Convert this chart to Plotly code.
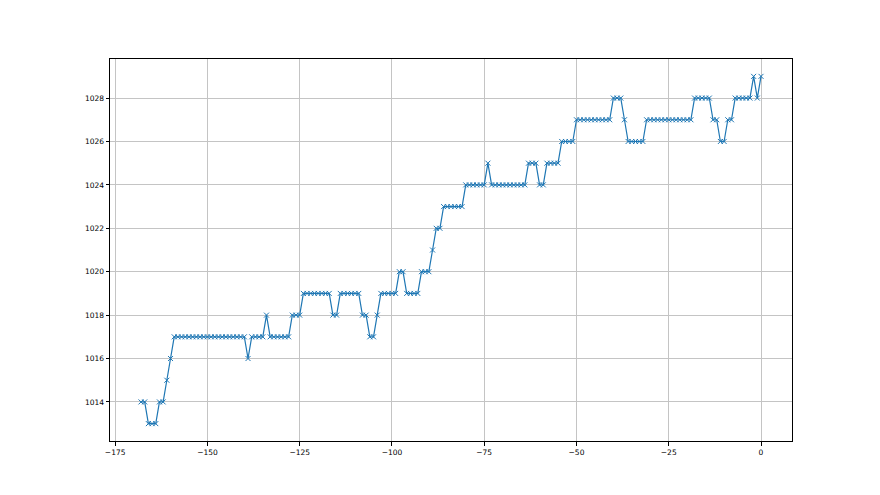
import plotly.graph_objects as go

# hours relative to now (hourly readings)
hours = list(range(-168, 1))

# pressure readings (hPa), one per hour from -168 to 0
pressure = [
    1014, 1014, 1013, 1013, 1013, 1014, 1014, 1015, 1016,
    1017, 1017, 1017, 1017, 1017, 1017, 1017, 1017, 1017, 1017,
    1017, 1017, 1017, 1017, 1017, 1017, 1017, 1017, 1017, 1017,
    1016,
    1017, 1017, 1017, 1017,
    1018,
    1017, 1017, 1017, 1017, 1017, 1017,
    1018, 1018, 1018,
    1019, 1019, 1019, 1019, 1019, 1019, 1019, 1019,
    1018, 1018,
    1019, 1019, 1019, 1019, 1019, 1019,
    1018, 1018,
    1017, 1017,
    1018,
    1019, 1019, 1019, 1019, 1019,
    1020, 1020,
    1019, 1019, 1019, 1019,
    1020, 1020, 1020,
    1021,
    1022, 1022,
    1023, 1023, 1023, 1023, 1023, 1023,
    1024, 1024, 1024, 1024, 1024, 1024,
    1025,
    1024, 1024, 1024, 1024, 1024, 1024, 1024, 1024, 1024, 1024,
    1025, 1025, 1025,
    1024, 1024,
    1025, 1025, 1025, 1025,
    1026, 1026, 1026, 1026,
    1027, 1027, 1027, 1027, 1027, 1027, 1027, 1027, 1027, 1027,
    1028, 1028, 1028,
    1027,
    1026, 1026, 1026, 1026, 1026,
    1027, 1027, 1027, 1027, 1027, 1027, 1027, 1027, 1027, 1027,
    1027, 1027, 1027,
    1028, 1028, 1028, 1028, 1028,
    1027, 1027,
    1026, 1026,
    1027, 1027,
    1028, 1028, 1028, 1028, 1028,
    1029,
    1028,
    1029,
]

x_ticks = [-175, -150, -125, -100, -75, -50, -25, 0]
y_ticks = [1014, 1016, 1018, 1020, 1022, 1024, 1026, 1028]

blue = "#1f77b4"

fig = go.Figure()

# 気圧ライン
fig.add_trace(
    go.Scatter(
        x=hours,
        y=pressure,
        mode="lines+markers",
        line=dict(color=blue, width=1.2),
        marker=dict(symbol="x-thin", size=5, line=dict(color=blue, width=1)),
        showlegend=False,
    )
)

axis_style = dict(
    showline=True,
    mirror=True,
    linecolor="black",
    linewidth=1,
    ticks="outside",
    ticklen=3.5,
    tickwidth=0.8,
    tickcolor="black",
    showgrid=True,
    gridcolor="#c4c4c4",
    gridwidth=0.8,
    zeroline=False,
    tickfont=dict(family="DejaVu Sans", size=7.5, color="black"),
)

# page body adds an 8px offset, margins are set so the axes land where the reference has them
fig.update_layout(
    width=880,
    height=495,
    margin=dict(l=102, r=96, t=51, b=62),
    paper_bgcolor="white",
    plot_bgcolor="white",
)
fig.update_xaxes(range=[-176.4, 8.4], tickvals=x_ticks, **axis_style)
fig.update_yaxes(range=[1012.2, 1029.8], tickvals=y_ticks, **axis_style)

fig.write_html("out.html")
